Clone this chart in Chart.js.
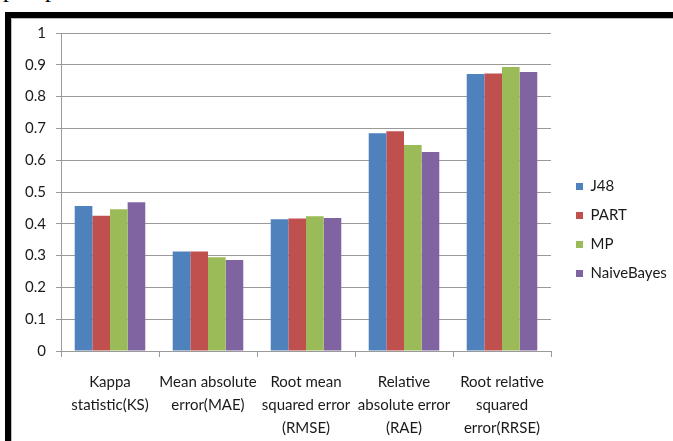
<!DOCTYPE html>
<html>
<head>
<meta charset="utf-8">
<script src="https://cdn.jsdelivr.net/npm/chart.js@4/dist/chart.umd.min.js"></script>
<style>
  html, body { margin: 0; padding: 0; background: #fff; }
  body { width: 673px; height: 441px; position: relative; overflow: hidden; }
  #frame { position: absolute; left: 5px; top: 12px; width: 700px; height: 460px;
           border-left: 6px solid #000; border-top: 6px solid #000; box-sizing: border-box; }
  #inner { position: absolute; left: 11px; top: 18px; width: 700px; height: 460px;
           border-left: 1px solid #bdbdbd; border-top: 1px solid #bdbdbd; box-sizing: border-box; }
  #scrap { position: absolute; left: 3px; top: -24px; font: 24px "Liberation Serif", serif; color: #000; white-space: pre; }
  #c { position: absolute; left: 0; top: 0; }
</style>
</head>
<body>
<div id="scrap">p     p</div>
<div id="frame"></div>
<div id="inner"></div>
<canvas id="c" width="673" height="441"></canvas>
<script>
const categories = [
  ['Kappa', 'statistic(KS)'],
  ['Mean absolute', 'error(MAE)'],
  ['Root mean', 'squared error', '(RMSE)'],
  ['Relative', 'absolute error', '(RAE)'],
  ['Root relative', 'squared', 'error(RRSE)']
];
const seriesNames = ['J48', 'PART', 'MP', 'NaiveBayes'];
const j48 = [0.456, 0.313, 0.414, 0.685, 0.871];
const part = [0.425, 0.313, 0.417, 0.691, 0.873];
const mp = [0.446, 0.295, 0.424, 0.648, 0.893];
const naiveBayes = [0.468, 0.286, 0.418, 0.626, 0.877];
const yTicks = [0, 0.1, 0.2, 0.3, 0.4, 0.5, 0.6, 0.7, 0.8, 0.9, 1];
const colors = ['#4F81BD', '#C0504D', '#9BBB59', '#8064A2'];

const FONT = 'Lato, "Liberation Sans", sans-serif';
const values = [j48, part, mp, naiveBayes];

const legendPlace = {
  id: 'legendPlace',
  afterLayout(chart) {
    const l = chart.legend;
    if (!l) return;
    const w = l.width;
    l.left = 562; l.right = 562 + w;
    l.top = 165; l.bottom = 165 + 200;
  }
};

const chart = new Chart(document.getElementById('c'), {
  type: 'bar',
  data: {
    labels: categories,
    datasets: seriesNames.map((n, i) => ({
      label: n,
      data: values[i],
      backgroundColor: colors[i],
      borderWidth: 0,
      categoryPercentage: 0.72,
      barPercentage: 1.0
    }))
  },
  options: {
    responsive: false,
    animation: false,
    layout: { padding: { left: 12, top: 33, right: 0, bottom: 0 } },
    plugins: {
      legend: {
        position: 'right',
        align: 'start',
        labels: {
          boxWidth: 7, boxHeight: 7, padding: 14,
          color: '#1a1a1a',
          font: { family: FONT, size: 15 }
        }
      },
      tooltip: { enabled: false }
    },
    scales: {
      x: {
        grid: { display: true, offset: true, drawOnChartArea: false, drawTicks: true, tickLength: 6, color: '#9a9a9a' },
        border: { display: true, color: '#9a9a9a' },
        ticks: { color: '#1a1a1a', font: { family: FONT, size: 15, lineHeight: 1.52 }, maxRotation: 0, autoSkip: false, padding: 14 },
        afterFit(s) { s.height = 90; }
      },
      y: {
        min: 0, max: 1,
        afterBuildTicks(s) { s.ticks = yTicks.map(v => ({ value: v })); },
        grid: { color: '#9a9a9a', tickLength: 5 },
        border: { display: true, color: '#9a9a9a' },
        ticks: { color: '#1a1a1a', font: { family: FONT, size: 15 }, padding: 10,
                 callback: v => String(v) },
        afterFit(s) { s.width = 49; }
      }
    }
  },
  plugins: [legendPlace]
});
const dr = chart.chartArea.right - 551;
if (Math.abs(dr) > 0.5) {
  chart.options.layout.padding.right += dr;
  chart.update('none');
}
</script>
</body>
</html>
